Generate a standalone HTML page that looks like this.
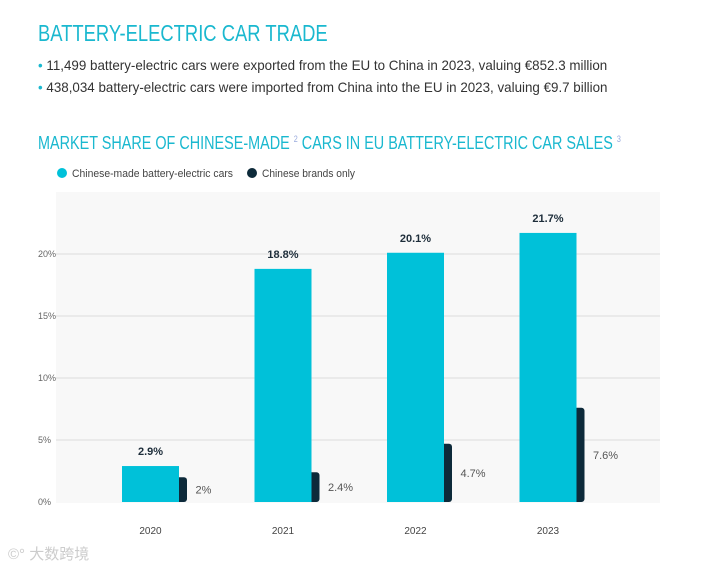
<!DOCTYPE html>
<html><head><meta charset="utf-8"><style>
body{margin:0;background:#fff;width:722px;height:571px;overflow:hidden;font-family:"Liberation Sans","Noto Sans CJK SC",sans-serif;}
.t{position:absolute;white-space:nowrap;}
</style></head><body>
<div class="t" style="left:38px;top:20px;font-size:23px;color:#1ab8cf;transform:scaleX(0.8);transform-origin:left;">BATTERY-ELECTRIC CAR TRADE</div>
<div class="t" style="left:38px;top:57px;font-size:14px;color:#333;transform:scaleX(0.955);transform-origin:left;"><span style="color:#1ab8cf">•</span> 11,499 battery-electric cars were exported from the EU to China in 2023, valuing €852.3 million</div>
<div class="t" style="left:38px;top:79px;font-size:14px;color:#333;transform:scaleX(0.955);transform-origin:left;"><span style="color:#1ab8cf">•</span> 438,034 battery-electric cars were imported from China into the EU in 2023, valuing €9.7 billion</div>
<div class="t" style="left:38px;top:133px;font-size:18px;color:#1ab8cf;transform:scaleX(0.8);transform-origin:left;">MARKET SHARE OF CHINESE-MADE <sup style="font-size:9px;color:#9ad">2</sup> CARS IN EU BATTERY-ELECTRIC CAR SALES <sup style="font-size:9px;color:#9ad">3</sup></div>
<svg id="c" width="722" height="571" style="position:absolute;left:0;top:0"></svg>
<script>
const categories=["2020","2021","2022","2023"];
const madeValues=[2.9,18.8,20.1,21.7];
const brandValues=[2,2.4,4.7,7.6];
const madeLabels=["2.9%","18.8%","20.1%","21.7%"];
const brandLabels=["2%","2.4%","4.7%","7.6%"];
const ticks=[0,5,10,15,20];
const tickLabels=["0%","5%","10%","15%","20%"];
const svg=document.getElementById('c');const NS='http://www.w3.org/2000/svg';
function el(t,a,p){const e=document.createElementNS(NS,t);for(const k in a)e.setAttribute(k,a[k]);(p||svg).appendChild(e);return e;}
const y=v=>502-v*12.4;
const x=i=>150.5+i*132.5;
const bg=el('rect',{x:56,y:192,width:604,height:311,fill:'#f8f8f8'});


const l1=el('circle',{cx:62,cy:173,r:5,fill:'#00c1d9'});


const lt1=el('text',{x:72,y:177,'font-size':11,fill:'#444',textLength:161,lengthAdjust:'spacingAndGlyphs'});lt1.textContent='Chinese-made battery-electric cars';


const l2=el('circle',{cx:252,cy:173,r:5,fill:'#0d2a3a'});


const lt2=el('text',{x:262,y:177,'font-size':11,fill:'#444',textLength:93,lengthAdjust:'spacingAndGlyphs'});lt2.textContent='Chinese brands only';


ticks.forEach((t,i)=>{
 if(t>0){const g=el('line',{x1:56,x2:660,y1:y(t),y2:y(t),stroke:'#ddd','stroke-width':1});
 
 }
 const tl=el('text',{x:38,y:y(t)+3,'font-size':9,fill:'#666'});tl.textContent=tickLabels[i];
 
 
});
categories.forEach((c,i)=>{
 const cx=x(i);
 const b=el('rect',{x:cx-28.5,y:y(madeValues[i]),width:57,height:502-y(madeValues[i]),fill:'#00c1d9'});
 
 
 const yb=y(brandValues[i]),h=502-yb;
 const d=el('path',{d:`M${cx+28.5},${yb} h5 a3,3 0 0 1 3,3 v${h-6} a3,3 0 0 1 -3,3 h-5 Z`,fill:'#0d2a3a'});
 
 
 const v1=el('text',{x:cx,y:y(madeValues[i])-11,'font-size':11,'font-weight':'bold',fill:'#1d2d3a','text-anchor':'middle'});v1.textContent=madeLabels[i];
 
 
 const v2=el('text',{x:cx+45,y:(yb+502)/2+4,'font-size':11,fill:'#555'});v2.textContent=brandLabels[i];
 
 
 const xl=el('text',{x:cx,y:534,'font-size':10,fill:'#444','text-anchor':'middle'});xl.textContent=c;
 
 
});
</script>
<div class="t" style="left:8px;top:543px;font-size:15px;color:#ccc;">©° 大数跨境</div>
</body></html>
